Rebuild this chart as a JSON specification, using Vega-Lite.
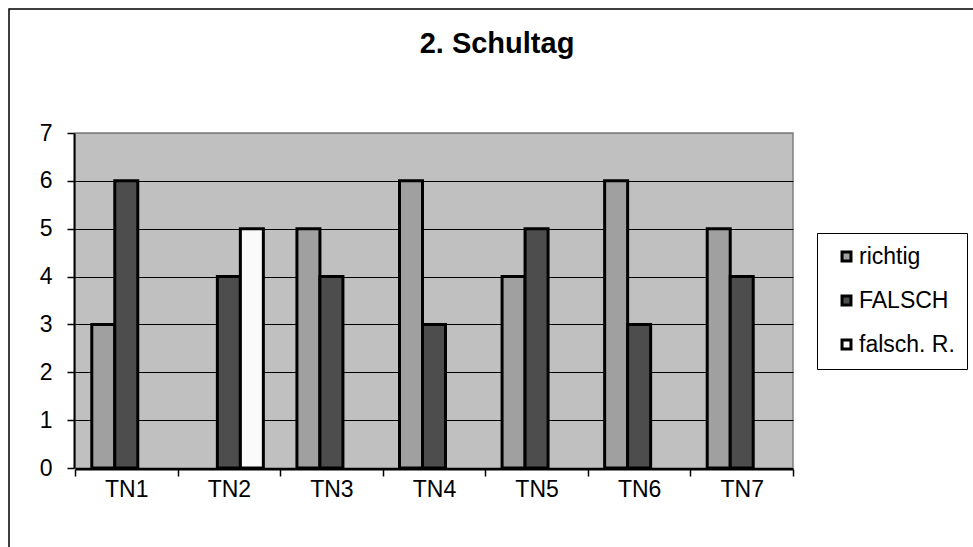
{
  "$schema": "https://vega.github.io/schema/vega-lite/v6.json",
  "autosize": {"type": "none"},
  "padding": {"left": 75, "top": 133, "right": 180, "bottom": 79},
  "width": 718,
  "height": 335,
  "background": "white",
  "config": {
    "font": "Liberation Sans",
    "view": {"fill": "#C0C0C0", "stroke": "#808080", "strokeWidth": 1.5}
  },
  "title": {
    "text": "2. Schultag",
    "font": "Liberation Sans",
    "fontSize": 29,
    "fontWeight": "bold",
    "color": "black",
    "anchor": "middle",
    "frame": "group",
    "baseline": "alphabetic",
    "offset": -74,
    "dx": 63
  },
  "layer": [
    {
      "data": {"values": [{"bereich": "Diagrammfläche"}]},
      "mark": {"type": "rect", "filled": false, "stroke": "black", "strokeWidth": 1.5},
      "encoding": {
        "x": {"field": "bereich", "type": "nominal", "scale": {"range": [-66, 910], "paddingInner": 0, "paddingOuter": 0}, "axis": null},
        "y": {"field": "bereich", "type": "nominal", "scale": {"range": [-124, 421], "paddingInner": 0, "paddingOuter": 0}, "axis": null}
      }
    },
    {
      "data": {
        "values": [
          {"teilnehmer": "TN1", "ergebnis": "richtig", "anzahl": 3},
          {"teilnehmer": "TN1", "ergebnis": "FALSCH", "anzahl": 6},
          {"teilnehmer": "TN2", "ergebnis": "FALSCH", "anzahl": 4},
          {"teilnehmer": "TN2", "ergebnis": "falsch. R.", "anzahl": 5},
          {"teilnehmer": "TN3", "ergebnis": "richtig", "anzahl": 5},
          {"teilnehmer": "TN3", "ergebnis": "FALSCH", "anzahl": 4},
          {"teilnehmer": "TN4", "ergebnis": "richtig", "anzahl": 6},
          {"teilnehmer": "TN4", "ergebnis": "FALSCH", "anzahl": 3},
          {"teilnehmer": "TN5", "ergebnis": "richtig", "anzahl": 4},
          {"teilnehmer": "TN5", "ergebnis": "FALSCH", "anzahl": 5},
          {"teilnehmer": "TN6", "ergebnis": "richtig", "anzahl": 6},
          {"teilnehmer": "TN6", "ergebnis": "FALSCH", "anzahl": 3},
          {"teilnehmer": "TN7", "ergebnis": "richtig", "anzahl": 5},
          {"teilnehmer": "TN7", "ergebnis": "FALSCH", "anzahl": 4}
        ]
      },
      "mark": {"type": "bar", "stroke": "black", "strokeWidth": 3},
      "encoding": {
        "x": {
          "field": "teilnehmer",
          "type": "nominal",
          "sort": ["TN1", "TN2", "TN3", "TN4", "TN5", "TN6", "TN7"],
          "scale": {"paddingInner": 0, "paddingOuter": 0},
          "axis": {
            "title": null,
            "labelAngle": 0,
            "labelFont": "Liberation Sans",
            "labelFontSize": 23,
            "labelColor": "black",
            "labelPadding": 2,
            "tickBand": "extent",
            "tickSize": 7,
            "tickColor": "black",
            "tickWidth": 1.5,
            "domainColor": "black",
            "domainWidth": 2,
            "offset": 1,
            "grid": false
          }
        },
        "xOffset": {
          "field": "ergebnis",
          "type": "nominal",
          "sort": ["richtig", "FALSCH", "falsch. R."],
          "scale": {"domain": ["richtig", "FALSCH", "falsch. R."], "paddingInner": 0, "paddingOuter": 0.73}
        },
        "y": {
          "field": "anzahl",
          "type": "quantitative",
          "scale": {"domain": [0, 7], "nice": false},
          "axis": {
            "title": null,
            "values": [0, 1, 2, 3, 4, 5, 6, 7],
            "labelFont": "Liberation Sans",
            "labelFontSize": 23,
            "labelColor": "black",
            "labelPadding": 15,
            "tickSize": 7,
            "tickColor": "black",
            "tickWidth": 1.5,
            "domainColor": "black",
            "domainWidth": 2,
            "offset": 1,
            "grid": true,
            "gridColor": {"condition": {"test": "datum.value === 7", "value": "#808080"}, "value": "black"},
            "gridWidth": 1.2
          }
        },
        "color": {
          "field": "ergebnis",
          "type": "nominal",
          "scale": {"domain": ["richtig", "FALSCH", "falsch. R."], "range": ["#A0A0A0", "#4D4D4D", "#FAFAFA"]},
          "legend": {
            "title": null,
            "orient": "none",
            "legendX": 742,
            "legendY": 100,
            "direction": "vertical",
            "strokeColor": "black",
            "fillColor": "white",
            "padding": 12,
            "symbolType": "square",
            "symbolSize": 80,
            "symbolStrokeColor": "black",
            "symbolStrokeWidth": 3,
            "symbolOffset": 6,
            "labelFont": "Liberation Sans",
            "labelFontSize": 23,
            "labelColor": "black",
            "labelOffset": 1,
            "rowPadding": 20
          }
        }
      }
    }
  ],
  "resolve": {"scale": {"x": "independent", "y": "independent"}}
}
